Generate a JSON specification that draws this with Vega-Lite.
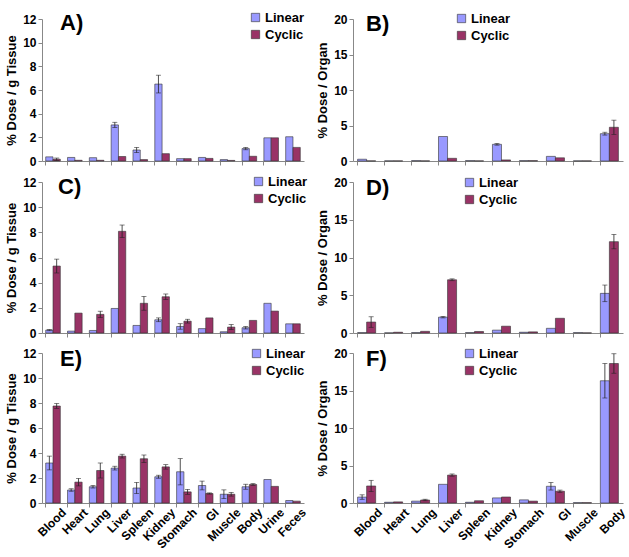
{
"$schema": "https://vega.github.io/schema/vega-lite/v6.json",
"background": "white",
"padding": {"left": 5, "top": 11, "right": 5, "bottom": 5},
"datasets": {
"rows": [
{"p":"A","o":"Blood","s":"Linear","v":0.35},
{"p":"A","o":"Blood","s":"Cyclic","v":0.15,"lo":0.05,"hi":0.25},
{"p":"A","o":"Heart","s":"Linear","v":0.3},
{"p":"A","o":"Heart","s":"Cyclic","v":0.06},
{"p":"A","o":"Lung","s":"Linear","v":0.28},
{"p":"A","o":"Lung","s":"Cyclic","v":0.06},
{"p":"A","o":"Liver","s":"Linear","v":3.05,"lo":2.83,"hi":3.27},
{"p":"A","o":"Liver","s":"Cyclic","v":0.38},
{"p":"A","o":"Spleen","s":"Linear","v":0.93,"lo":0.71,"hi":1.15},
{"p":"A","o":"Spleen","s":"Cyclic","v":0.12},
{"p":"A","o":"Kidney","s":"Linear","v":6.5,"lo":5.75,"hi":7.25},
{"p":"A","o":"Kidney","s":"Cyclic","v":0.62},
{"p":"A","o":"Stomach","s":"Linear","v":0.2},
{"p":"A","o":"Stomach","s":"Cyclic","v":0.2},
{"p":"A","o":"GI","s":"Linear","v":0.3},
{"p":"A","o":"GI","s":"Cyclic","v":0.22},
{"p":"A","o":"Muscle","s":"Linear","v":0.12},
{"p":"A","o":"Muscle","s":"Cyclic","v":0.05},
{"p":"A","o":"Body","s":"Linear","v":1.05,"lo":0.95,"hi":1.15},
{"p":"A","o":"Body","s":"Cyclic","v":0.4},
{"p":"A","o":"Urine","s":"Linear","v":1.96},
{"p":"A","o":"Urine","s":"Cyclic","v":1.96},
{"p":"A","o":"Feces","s":"Linear","v":2.05},
{"p":"A","o":"Feces","s":"Cyclic","v":1.15},

{"p":"B","o":"Blood","s":"Linear","v":0.25},
{"p":"B","o":"Blood","s":"Cyclic","v":0.02},
{"p":"B","o":"Heart","s":"Linear","v":0.02},
{"p":"B","o":"Heart","s":"Cyclic","v":0.02},
{"p":"B","o":"Lung","s":"Linear","v":0.05},
{"p":"B","o":"Lung","s":"Cyclic","v":0.02},
{"p":"B","o":"Liver","s":"Linear","v":3.45},
{"p":"B","o":"Liver","s":"Cyclic","v":0.38},
{"p":"B","o":"Spleen","s":"Linear","v":0.05},
{"p":"B","o":"Spleen","s":"Cyclic","v":0.02},
{"p":"B","o":"Kidney","s":"Linear","v":2.35,"lo":2.23,"hi":2.47},
{"p":"B","o":"Kidney","s":"Cyclic","v":0.15},
{"p":"B","o":"Stomach","s":"Linear","v":0.05},
{"p":"B","o":"Stomach","s":"Cyclic","v":0.05},
{"p":"B","o":"GI","s":"Linear","v":0.65},
{"p":"B","o":"GI","s":"Cyclic","v":0.45},
{"p":"B","o":"Muscle","s":"Linear","v":0.02},
{"p":"B","o":"Muscle","s":"Cyclic","v":0.02},
{"p":"B","o":"Body","s":"Linear","v":3.85,"lo":3.65,"hi":4.05},
{"p":"B","o":"Body","s":"Cyclic","v":4.75,"lo":3.75,"hi":5.75},

{"p":"C","o":"Blood","s":"Linear","v":0.23,"lo":0.18,"hi":0.28},
{"p":"C","o":"Blood","s":"Cyclic","v":5.32,"lo":4.77,"hi":5.87},
{"p":"C","o":"Heart","s":"Linear","v":0.15},
{"p":"C","o":"Heart","s":"Cyclic","v":1.58},
{"p":"C","o":"Lung","s":"Linear","v":0.2},
{"p":"C","o":"Lung","s":"Cyclic","v":1.48,"lo":1.23,"hi":1.73},
{"p":"C","o":"Liver","s":"Linear","v":1.95},
{"p":"C","o":"Liver","s":"Cyclic","v":8.08,"lo":7.58,"hi":8.58},
{"p":"C","o":"Spleen","s":"Linear","v":0.6},
{"p":"C","o":"Spleen","s":"Cyclic","v":2.36,"lo":1.81,"hi":2.91},
{"p":"C","o":"Kidney","s":"Linear","v":1.05,"lo":0.9,"hi":1.2},
{"p":"C","o":"Kidney","s":"Cyclic","v":2.88,"lo":2.66,"hi":3.1},
{"p":"C","o":"Stomach","s":"Linear","v":0.52,"lo":0.3,"hi":0.74},
{"p":"C","o":"Stomach","s":"Cyclic","v":0.94,"lo":0.79,"hi":1.09},
{"p":"C","o":"GI","s":"Linear","v":0.35},
{"p":"C","o":"GI","s":"Cyclic","v":1.2},
{"p":"C","o":"Muscle","s":"Linear","v":0.1},
{"p":"C","o":"Muscle","s":"Cyclic","v":0.47,"lo":0.27,"hi":0.67},
{"p":"C","o":"Body","s":"Linear","v":0.42,"lo":0.32,"hi":0.52},
{"p":"C","o":"Body","s":"Cyclic","v":1.0},
{"p":"C","o":"Urine","s":"Linear","v":2.36},
{"p":"C","o":"Urine","s":"Cyclic","v":1.74},
{"p":"C","o":"Feces","s":"Linear","v":0.73},
{"p":"C","o":"Feces","s":"Cyclic","v":0.73},

{"p":"D","o":"Blood","s":"Linear","v":0.05},
{"p":"D","o":"Blood","s":"Cyclic","v":1.45,"lo":0.75,"hi":2.15},
{"p":"D","o":"Heart","s":"Linear","v":0.02},
{"p":"D","o":"Heart","s":"Cyclic","v":0.1},
{"p":"D","o":"Lung","s":"Linear","v":0.05},
{"p":"D","o":"Lung","s":"Cyclic","v":0.22},
{"p":"D","o":"Liver","s":"Linear","v":2.1,"lo":2.0,"hi":2.2},
{"p":"D","o":"Liver","s":"Cyclic","v":7.05,"lo":6.93,"hi":7.17},
{"p":"D","o":"Spleen","s":"Linear","v":0.05},
{"p":"D","o":"Spleen","s":"Cyclic","v":0.2},
{"p":"D","o":"Kidney","s":"Linear","v":0.38},
{"p":"D","o":"Kidney","s":"Cyclic","v":0.9},
{"p":"D","o":"Stomach","s":"Linear","v":0.1},
{"p":"D","o":"Stomach","s":"Cyclic","v":0.15},
{"p":"D","o":"GI","s":"Linear","v":0.62},
{"p":"D","o":"GI","s":"Cyclic","v":1.95},
{"p":"D","o":"Muscle","s":"Linear","v":0.05},
{"p":"D","o":"Muscle","s":"Cyclic","v":0.02},
{"p":"D","o":"Body","s":"Linear","v":5.25,"lo":4.15,"hi":6.35},
{"p":"D","o":"Body","s":"Cyclic","v":12.1,"lo":11.15,"hi":13.05},

{"p":"E","o":"Blood","s":"Linear","v":3.2,"lo":2.65,"hi":3.75},
{"p":"E","o":"Blood","s":"Cyclic","v":7.76,"lo":7.56,"hi":7.96},
{"p":"E","o":"Heart","s":"Linear","v":1.04,"lo":0.94,"hi":1.14},
{"p":"E","o":"Heart","s":"Cyclic","v":1.67,"lo":1.37,"hi":1.97},
{"p":"E","o":"Lung","s":"Linear","v":1.3,"lo":1.2,"hi":1.4},
{"p":"E","o":"Lung","s":"Cyclic","v":2.6,"lo":2.0,"hi":3.2},
{"p":"E","o":"Liver","s":"Linear","v":2.79,"lo":2.64,"hi":2.94},
{"p":"E","o":"Liver","s":"Cyclic","v":3.75,"lo":3.6,"hi":3.9},
{"p":"E","o":"Spleen","s":"Linear","v":1.2,"lo":0.75,"hi":1.65},
{"p":"E","o":"Spleen","s":"Cyclic","v":3.54,"lo":3.24,"hi":3.84},
{"p":"E","o":"Kidney","s":"Linear","v":2.1,"lo":1.98,"hi":2.22},
{"p":"E","o":"Kidney","s":"Cyclic","v":2.89,"lo":2.71,"hi":3.07},
{"p":"E","o":"Stomach","s":"Linear","v":2.5,"lo":1.45,"hi":3.55},
{"p":"E","o":"Stomach","s":"Cyclic","v":0.89,"lo":0.69,"hi":1.09},
{"p":"E","o":"GI","s":"Linear","v":1.4,"lo":1.05,"hi":1.75},
{"p":"E","o":"GI","s":"Cyclic","v":0.76,"lo":0.71,"hi":0.81},
{"p":"E","o":"Muscle","s":"Linear","v":0.7,"lo":0.35,"hi":1.05},
{"p":"E","o":"Muscle","s":"Cyclic","v":0.7,"lo":0.55,"hi":0.85},
{"p":"E","o":"Body","s":"Linear","v":1.3,"lo":1.1,"hi":1.5},
{"p":"E","o":"Body","s":"Cyclic","v":1.48,"lo":1.41,"hi":1.55},
{"p":"E","o":"Urine","s":"Linear","v":1.88},
{"p":"E","o":"Urine","s":"Cyclic","v":1.33},
{"p":"E","o":"Feces","s":"Linear","v":0.2},
{"p":"E","o":"Feces","s":"Cyclic","v":0.15},

{"p":"F","o":"Blood","s":"Linear","v":0.79,"lo":0.49,"hi":1.09},
{"p":"F","o":"Blood","s":"Cyclic","v":2.27,"lo":1.52,"hi":3.02},
{"p":"F","o":"Heart","s":"Linear","v":0.1},
{"p":"F","o":"Heart","s":"Cyclic","v":0.15},
{"p":"F","o":"Lung","s":"Linear","v":0.25},
{"p":"F","o":"Lung","s":"Cyclic","v":0.4,"lo":0.3,"hi":0.5},
{"p":"F","o":"Liver","s":"Linear","v":2.49},
{"p":"F","o":"Liver","s":"Cyclic","v":3.72,"lo":3.57,"hi":3.87},
{"p":"F","o":"Spleen","s":"Linear","v":0.1},
{"p":"F","o":"Spleen","s":"Cyclic","v":0.3},
{"p":"F","o":"Kidney","s":"Linear","v":0.68},
{"p":"F","o":"Kidney","s":"Cyclic","v":0.8},
{"p":"F","o":"Stomach","s":"Linear","v":0.42},
{"p":"F","o":"Stomach","s":"Cyclic","v":0.25},
{"p":"F","o":"GI","s":"Linear","v":2.23,"lo":1.73,"hi":2.73},
{"p":"F","o":"GI","s":"Cyclic","v":1.57,"lo":1.42,"hi":1.72},
{"p":"F","o":"Muscle","s":"Linear","v":0.05},
{"p":"F","o":"Muscle","s":"Cyclic","v":0.05},
{"p":"F","o":"Body","s":"Linear","v":16.3,"lo":14.0,"hi":18.6},
{"p":"F","o":"Body","s":"Cyclic","v":18.6,"lo":17.3,"hi":19.9}
]
},
"columns": 2,
"spacing": {"row": 8, "column": 8},
"resolve": {"scale": {"color": "independent", "x": "independent", "y": "independent", "xOffset": "independent"}, "legend": {"color": "independent"}},
"concat": [
{
 "width": 262, "height": 142,
 "title": {"text": "A)", "dx": 18, "offset": -24},
 "data": {"name": "rows"},
 "transform": [{"filter": {"field": "p", "equal": "A"}}],
 "encoding": {"x": {"field": "o", "type": "nominal", "title": null, "scale": {"domain": ["Blood","Heart","Lung","Liver","Spleen","Kidney","Stomach","GI","Muscle","Body","Urine","Feces"], "paddingInner": 0.33, "paddingOuter": 0.17}, "axis": {"labels": false}}},
 "layer": [
  {"mark": {"type": "bar", "stroke": "#333333", "strokeWidth": 0.6}, "encoding": {"xOffset": {"field": "s", "scale": {"domain": ["Linear","Cyclic"]}}, "y": {"field": "v", "type": "quantitative", "title": "% Dose / g Tissue", "scale": {"domain": [0, 12]}, "axis": {"values": [0,2,4,6,8,10,12]}}, "color": {"field": "s", "type": "nominal", "scale": {"domain": ["Linear","Cyclic"], "range": ["#9999ff","#993366"]}, "legend": {"orient": "none", "legendX": 207, "legendY": -8}}}},
  {"transform": [{"filter": {"field": "hi", "valid": true}}], "mark": {"type": "rule", "color": "#222222", "strokeWidth": 0.8}, "encoding": {"xOffset": {"field": "s", "scale": {"domain": ["Linear","Cyclic"]}}, "y": {"field": "lo", "type": "quantitative", "title": "% Dose / g Tissue", "axis": {"values": [0,2,4,6,8,10,12]}}, "y2": {"field": "hi"}}},
  {"transform": [{"filter": {"field": "hi", "valid": true}}], "mark": {"type": "tick", "color": "#222222", "size": 5, "thickness": 0.8}, "encoding": {"xOffset": {"field": "s", "scale": {"domain": ["Linear","Cyclic"]}}, "y": {"field": "hi", "type": "quantitative", "title": "% Dose / g Tissue", "axis": {"values": [0,2,4,6,8,10,12]}}}},
  {"transform": [{"filter": {"field": "hi", "valid": true}}], "mark": {"type": "tick", "color": "#222222", "size": 5, "thickness": 0.8}, "encoding": {"xOffset": {"field": "s", "scale": {"domain": ["Linear","Cyclic"]}}, "y": {"field": "lo", "type": "quantitative", "title": "% Dose / g Tissue", "axis": {"values": [0,2,4,6,8,10,12]}}}}
 ]
},
{
 "width": 270, "height": 142,
 "title": {"text": "B)", "dx": 13, "offset": -24},
 "data": {"name": "rows"},
 "transform": [{"filter": {"field": "p", "equal": "B"}}],
 "encoding": {"x": {"field": "o", "type": "nominal", "title": null, "scale": {"domain": ["Blood","Heart","Lung","Liver","Spleen","Kidney","Stomach","GI","Muscle","Body"], "paddingInner": 0.33, "paddingOuter": 0.17}, "axis": {"labels": false}}},
 "layer": [
  {"mark": {"type": "bar", "stroke": "#333333", "strokeWidth": 0.6}, "encoding": {"xOffset": {"field": "s", "scale": {"domain": ["Linear","Cyclic"]}}, "y": {"field": "v", "type": "quantitative", "title": "% Dose / Organ", "scale": {"domain": [0, 20]}, "axis": {"values": [0,5,10,15,20]}}, "color": {"field": "s", "type": "nominal", "scale": {"domain": ["Linear","Cyclic"], "range": ["#9999ff","#993366"]}, "legend": {"orient": "none", "legendX": 102, "legendY": -7}}}},
  {"transform": [{"filter": {"field": "hi", "valid": true}}], "mark": {"type": "rule", "color": "#222222", "strokeWidth": 0.8}, "encoding": {"xOffset": {"field": "s", "scale": {"domain": ["Linear","Cyclic"]}}, "y": {"field": "lo", "type": "quantitative", "title": "% Dose / Organ", "axis": {"values": [0,5,10,15,20]}}, "y2": {"field": "hi"}}},
  {"transform": [{"filter": {"field": "hi", "valid": true}}], "mark": {"type": "tick", "color": "#222222", "size": 5, "thickness": 0.8}, "encoding": {"xOffset": {"field": "s", "scale": {"domain": ["Linear","Cyclic"]}}, "y": {"field": "hi", "type": "quantitative", "title": "% Dose / Organ", "axis": {"values": [0,5,10,15,20]}}}},
  {"transform": [{"filter": {"field": "hi", "valid": true}}], "mark": {"type": "tick", "color": "#222222", "size": 5, "thickness": 0.8}, "encoding": {"xOffset": {"field": "s", "scale": {"domain": ["Linear","Cyclic"]}}, "y": {"field": "lo", "type": "quantitative", "title": "% Dose / Organ", "axis": {"values": [0,5,10,15,20]}}}}
 ]
},
{
 "width": 262, "height": 151,
 "title": {"text": "C)", "dx": 16, "offset": -24},
 "data": {"name": "rows"},
 "transform": [{"filter": {"field": "p", "equal": "C"}}],
 "encoding": {"x": {"field": "o", "type": "nominal", "title": null, "scale": {"domain": ["Blood","Heart","Lung","Liver","Spleen","Kidney","Stomach","GI","Muscle","Body","Urine","Feces"], "paddingInner": 0.33, "paddingOuter": 0.17}, "axis": {"labels": false}}},
 "layer": [
  {"mark": {"type": "bar", "stroke": "#333333", "strokeWidth": 0.6}, "encoding": {"xOffset": {"field": "s", "scale": {"domain": ["Linear","Cyclic"]}}, "y": {"field": "v", "type": "quantitative", "title": "% Dose / g Tissue", "scale": {"domain": [0, 12]}, "axis": {"values": [0,2,4,6,8,10,12]}}, "color": {"field": "s", "type": "nominal", "scale": {"domain": ["Linear","Cyclic"], "range": ["#9999ff","#993366"]}, "legend": {"orient": "none", "legendX": 210, "legendY": -7}}}},
  {"transform": [{"filter": {"field": "hi", "valid": true}}], "mark": {"type": "rule", "color": "#222222", "strokeWidth": 0.8}, "encoding": {"xOffset": {"field": "s", "scale": {"domain": ["Linear","Cyclic"]}}, "y": {"field": "lo", "type": "quantitative", "title": "% Dose / g Tissue", "axis": {"values": [0,2,4,6,8,10,12]}}, "y2": {"field": "hi"}}},
  {"transform": [{"filter": {"field": "hi", "valid": true}}], "mark": {"type": "tick", "color": "#222222", "size": 5, "thickness": 0.8}, "encoding": {"xOffset": {"field": "s", "scale": {"domain": ["Linear","Cyclic"]}}, "y": {"field": "hi", "type": "quantitative", "title": "% Dose / g Tissue", "axis": {"values": [0,2,4,6,8,10,12]}}}},
  {"transform": [{"filter": {"field": "hi", "valid": true}}], "mark": {"type": "tick", "color": "#222222", "size": 5, "thickness": 0.8}, "encoding": {"xOffset": {"field": "s", "scale": {"domain": ["Linear","Cyclic"]}}, "y": {"field": "lo", "type": "quantitative", "title": "% Dose / g Tissue", "axis": {"values": [0,2,4,6,8,10,12]}}}}
 ]
},
{
 "width": 270, "height": 151,
 "title": {"text": "D)", "dx": 13, "offset": -24},
 "data": {"name": "rows"},
 "transform": [{"filter": {"field": "p", "equal": "D"}}],
 "encoding": {"x": {"field": "o", "type": "nominal", "title": null, "scale": {"domain": ["Blood","Heart","Lung","Liver","Spleen","Kidney","Stomach","GI","Muscle","Body"], "paddingInner": 0.33, "paddingOuter": 0.17}, "axis": {"labels": false}}},
 "layer": [
  {"mark": {"type": "bar", "stroke": "#333333", "strokeWidth": 0.6}, "encoding": {"xOffset": {"field": "s", "scale": {"domain": ["Linear","Cyclic"]}}, "y": {"field": "v", "type": "quantitative", "title": "% Dose / Organ", "scale": {"domain": [0, 20]}, "axis": {"values": [0,5,10,15,20]}}, "color": {"field": "s", "type": "nominal", "scale": {"domain": ["Linear","Cyclic"], "range": ["#9999ff","#993366"]}, "legend": {"orient": "none", "legendX": 110, "legendY": -6}}}},
  {"transform": [{"filter": {"field": "hi", "valid": true}}], "mark": {"type": "rule", "color": "#222222", "strokeWidth": 0.8}, "encoding": {"xOffset": {"field": "s", "scale": {"domain": ["Linear","Cyclic"]}}, "y": {"field": "lo", "type": "quantitative", "title": "% Dose / Organ", "axis": {"values": [0,5,10,15,20]}}, "y2": {"field": "hi"}}},
  {"transform": [{"filter": {"field": "hi", "valid": true}}], "mark": {"type": "tick", "color": "#222222", "size": 5, "thickness": 0.8}, "encoding": {"xOffset": {"field": "s", "scale": {"domain": ["Linear","Cyclic"]}}, "y": {"field": "hi", "type": "quantitative", "title": "% Dose / Organ", "axis": {"values": [0,5,10,15,20]}}}},
  {"transform": [{"filter": {"field": "hi", "valid": true}}], "mark": {"type": "tick", "color": "#222222", "size": 5, "thickness": 0.8}, "encoding": {"xOffset": {"field": "s", "scale": {"domain": ["Linear","Cyclic"]}}, "y": {"field": "lo", "type": "quantitative", "title": "% Dose / Organ", "axis": {"values": [0,5,10,15,20]}}}}
 ]
},
{
 "width": 262, "height": 150,
 "title": {"text": "E)", "dx": 18, "offset": -24},
 "data": {"name": "rows"},
 "transform": [{"filter": {"field": "p", "equal": "E"}}],
 "encoding": {"x": {"field": "o", "type": "nominal", "title": null, "scale": {"domain": ["Blood","Heart","Lung","Liver","Spleen","Kidney","Stomach","GI","Muscle","Body","Urine","Feces"], "paddingInner": 0.33, "paddingOuter": 0.17}, "axis": {"labelOffset": 11, "labelAngle": 315, "encode": {"labels": {"update": {"angle": {"value": -45}, "align": {"value": "right"}, "baseline": {"value": "middle"}}}}}}},
 "layer": [
  {"mark": {"type": "bar", "stroke": "#333333", "strokeWidth": 0.6}, "encoding": {"xOffset": {"field": "s", "scale": {"domain": ["Linear","Cyclic"]}}, "y": {"field": "v", "type": "quantitative", "title": "% Dose / g Tissue", "scale": {"domain": [0, 12]}, "axis": {"values": [0,2,4,6,8,10,12]}}, "color": {"field": "s", "type": "nominal", "scale": {"domain": ["Linear","Cyclic"], "range": ["#9999ff","#993366"]}, "legend": {"orient": "none", "legendX": 208, "legendY": -6}}}},
  {"transform": [{"filter": {"field": "hi", "valid": true}}], "mark": {"type": "rule", "color": "#222222", "strokeWidth": 0.8}, "encoding": {"xOffset": {"field": "s", "scale": {"domain": ["Linear","Cyclic"]}}, "y": {"field": "lo", "type": "quantitative", "title": "% Dose / g Tissue", "axis": {"values": [0,2,4,6,8,10,12]}}, "y2": {"field": "hi"}}},
  {"transform": [{"filter": {"field": "hi", "valid": true}}], "mark": {"type": "tick", "color": "#222222", "size": 5, "thickness": 0.8}, "encoding": {"xOffset": {"field": "s", "scale": {"domain": ["Linear","Cyclic"]}}, "y": {"field": "hi", "type": "quantitative", "title": "% Dose / g Tissue", "axis": {"values": [0,2,4,6,8,10,12]}}}},
  {"transform": [{"filter": {"field": "hi", "valid": true}}], "mark": {"type": "tick", "color": "#222222", "size": 5, "thickness": 0.8}, "encoding": {"xOffset": {"field": "s", "scale": {"domain": ["Linear","Cyclic"]}}, "y": {"field": "lo", "type": "quantitative", "title": "% Dose / g Tissue", "axis": {"values": [0,2,4,6,8,10,12]}}}}
 ]
},
{
 "width": 270, "height": 150,
 "title": {"text": "F)", "dx": 13, "offset": -24},
 "data": {"name": "rows"},
 "transform": [{"filter": {"field": "p", "equal": "F"}}],
 "encoding": {"x": {"field": "o", "type": "nominal", "title": null, "scale": {"domain": ["Blood","Heart","Lung","Liver","Spleen","Kidney","Stomach","GI","Muscle","Body"], "paddingInner": 0.33, "paddingOuter": 0.17}, "axis": {"labelOffset": 13.5, "labelAngle": 315, "encode": {"labels": {"update": {"angle": {"value": -45}, "align": {"value": "right"}, "baseline": {"value": "middle"}}}}}}},
 "layer": [
  {"mark": {"type": "bar", "stroke": "#333333", "strokeWidth": 0.6}, "encoding": {"xOffset": {"field": "s", "scale": {"domain": ["Linear","Cyclic"]}}, "y": {"field": "v", "type": "quantitative", "title": "% Dose / Organ", "scale": {"domain": [0, 20]}, "axis": {"values": [0,5,10,15,20]}}, "color": {"field": "s", "type": "nominal", "scale": {"domain": ["Linear","Cyclic"], "range": ["#9999ff","#993366"]}, "legend": {"orient": "none", "legendX": 110, "legendY": -6}}}},
  {"transform": [{"filter": {"field": "hi", "valid": true}}], "mark": {"type": "rule", "color": "#222222", "strokeWidth": 0.8}, "encoding": {"xOffset": {"field": "s", "scale": {"domain": ["Linear","Cyclic"]}}, "y": {"field": "lo", "type": "quantitative", "title": "% Dose / Organ", "axis": {"values": [0,5,10,15,20]}}, "y2": {"field": "hi"}}},
  {"transform": [{"filter": {"field": "hi", "valid": true}}], "mark": {"type": "tick", "color": "#222222", "size": 5, "thickness": 0.8}, "encoding": {"xOffset": {"field": "s", "scale": {"domain": ["Linear","Cyclic"]}}, "y": {"field": "hi", "type": "quantitative", "title": "% Dose / Organ", "axis": {"values": [0,5,10,15,20]}}}},
  {"transform": [{"filter": {"field": "hi", "valid": true}}], "mark": {"type": "tick", "color": "#222222", "size": 5, "thickness": 0.8}, "encoding": {"xOffset": {"field": "s", "scale": {"domain": ["Linear","Cyclic"]}}, "y": {"field": "lo", "type": "quantitative", "title": "% Dose / Organ", "axis": {"values": [0,5,10,15,20]}}}}
 ]
}
],
"config": {
 "font": "Liberation Sans",
 "view": {"stroke": null},
 "title": {"anchor": "start", "frame": "group", "fontSize": 22, "fontWeight": "bold", "color": "black", "font": "Liberation Sans", "baseline": "top"},
 "axis": {"grid": false, "labelOverlap": false, "domainColor": "#888888", "tickColor": "#888888", "tickSize": 4, "labelFont": "Liberation Sans", "labelFontWeight": "bold", "labelFontSize": 12, "labelColor": "black", "titleFont": "Liberation Sans", "titleFontWeight": "bold", "titleFontSize": 13, "titleColor": "black", "titlePadding": 4},
 "axisX": {"bandPosition": 0, "labelAngle": 315, "labelAlign": "right", "labelBaseline": "middle", "labelPadding": 3},
 "legend": {"title": null, "direction": "vertical", "symbolType": "square", "symbolSize": 70, "symbolStrokeColor": "#333333", "symbolStrokeWidth": 0.6, "symbolOpacity": 1, "labelFont": "Liberation Sans", "labelFontWeight": "bold", "labelFontSize": 13, "labelColor": "black", "rowPadding": 3, "labelOffset": 3}
}
}
